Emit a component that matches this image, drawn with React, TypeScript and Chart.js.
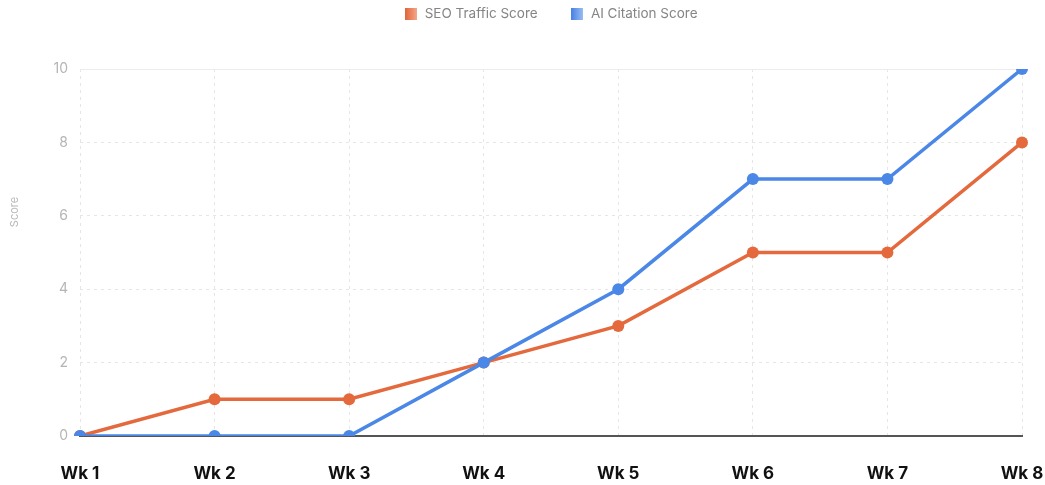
import React, { useEffect, useRef } from "react";
import { Chart, registerables } from "chart.js";

Chart.register(...registerables);

const weeks = ["Wk 1", "Wk 2", "Wk 3", "Wk 4", "Wk 5", "Wk 6", "Wk 7", "Wk 8"];
const seoTraffic = [0, 1, 1, 2, 3, 5, 5, 8];
const aiCitation = [0, 0, 0, 2, 4, 7, 7, 10];
const yTitle = "Score";

const ORANGE = "#E4693D";
const BLUE = "#4A87E6";

function gradientBox(c1: string, c2: string) {
  const cv = document.createElement("canvas");
  cv.width = 12;
  cv.height = 12;
  const ctx = cv.getContext("2d")!;
  const g = ctx.createLinearGradient(0, 0, 12, 0);
  g.addColorStop(0, c1);
  g.addColorStop(1, c2);
  ctx.fillStyle = g;
  ctx.fillRect(0, 0, 12, 12);
  return cv;
}

const PAD_TOP = -26;
const CHART_TOP = 69;

const legendHeight = {
  id: "legendHeight",
  beforeInit(chart: any) {
    const lg = chart.legend;
    if (!lg) return;
    const orig = lg.fit;
    lg.fit = function () {
      orig.call(this);
      this.height = CHART_TOP - PAD_TOP;
    };
  },
};

const extras = {
  id: "extras",
  beforeDatasetsDraw(chart: any) {
    const { ctx, chartArea } = chart;
    ctx.save();
    ctx.strokeStyle = "#ececec";
    ctx.lineWidth = 1;
    ctx.beginPath();
    ctx.moveTo(chartArea.left, chartArea.top + 0.5);
    ctx.lineTo(chartArea.right, chartArea.top + 0.5);
    ctx.stroke();
    ctx.restore();
  },
  afterDraw(chart: any) {
    const { ctx } = chart;
    ctx.save();
    ctx.translate(15, 212);
    ctx.rotate(-Math.PI / 2);
    ctx.fillStyle = "#b8b8b8";
    ctx.font = "11px Inter";
    ctx.textAlign = "center";
    ctx.textBaseline = "middle";
    ctx.fillText(yTitle, 0, 0);
    ctx.restore();
  },
};

export default function App() {
  const ref = useRef<HTMLCanvasElement>(null);
  useEffect(() => {
    document.body.style.margin = "0";
    const boxes = [gradientBox("#E2643A", "#F4A98A"), gradientBox("#4A82E4", "#9DC0F4")];
    const chart = new Chart(ref.current!, {
      type: "line",
      plugins: [legendHeight, extras],
      data: {
        labels: weeks,
        datasets: [
          {
            label: "SEO Traffic Score",
            data: seoTraffic,
            borderColor: ORANGE,
            backgroundColor: ORANGE,
            borderWidth: 3.5,
            pointRadius: 6,
            pointBorderWidth: 0,
            tension: 0,
            order: 1,
          },
          {
            label: "AI Citation Score",
            data: aiCitation,
            borderColor: BLUE,
            backgroundColor: BLUE,
            borderWidth: 3.5,
            pointRadius: 6,
            pointBorderWidth: 0,
            tension: 0,
            order: 0,
          },
        ],
      },
      options: {
        animation: false,
        responsive: false,
        layout: { padding: { top: PAD_TOP, bottom: 4, left: 0, right: 0 } },
        plugins: {
          tooltip: { enabled: false },
          legend: {
            fullSize: false,
            labels: {
              font: { family: "Inter", size: 13.5 },
              color: "#858585",
              usePointStyle: true,
              padding: 33,
              generateLabels: (c: any) =>
                c.data.datasets.map((d: any, i: number) => ({
                  text: d.label,
                  pointStyle: boxes[i],
                  fillStyle: d.borderColor,
                  strokeStyle: "transparent",
                  lineWidth: 0,
                  hidden: false,
                  datasetIndex: i,
                  fontColor: "#858585",
                })),
            },
          },
        },
        scales: {
          x: {
            offset: false,
            grid: { color: "#e6e6e6", drawTicks: false, lineWidth: 1 },
            border: { display: true, color: "#555555", width: 2, dash: [3, 4] },
            ticks: {
              color: "#111111",
              padding: 28,
              maxRotation: 0,
              font: { family: "Inter", size: 17, weight: "bold" },
            },
            afterFit: (s: any) => {
              s.height = 45;
              s.paddingRight = 23;
              s.paddingLeft = 0;
            },
          },
          y: {
            min: 0,
            max: 10,
            ticks: {
              stepSize: 2,
              color: "#b5b5b5",
              padding: 12,
              font: { family: "Inter", size: 14 },
            },
            grid: { color: "#e6e6e6", drawTicks: false, lineWidth: 1 },
            border: { display: false, dash: [3, 4] },
            afterFit: (s: any) => {
              s.width = 80;
              s.paddingTop = 0;
              s.paddingBottom = 0;
            },
          },
        },
      },
    });
    return () => chart.destroy();
  }, []);
  return (
    <div style={{ width: 1045, height: 485 }}>
      <canvas ref={ref} width={1045} height={485} style={{ display: "block" }} />
    </div>
  );
}
